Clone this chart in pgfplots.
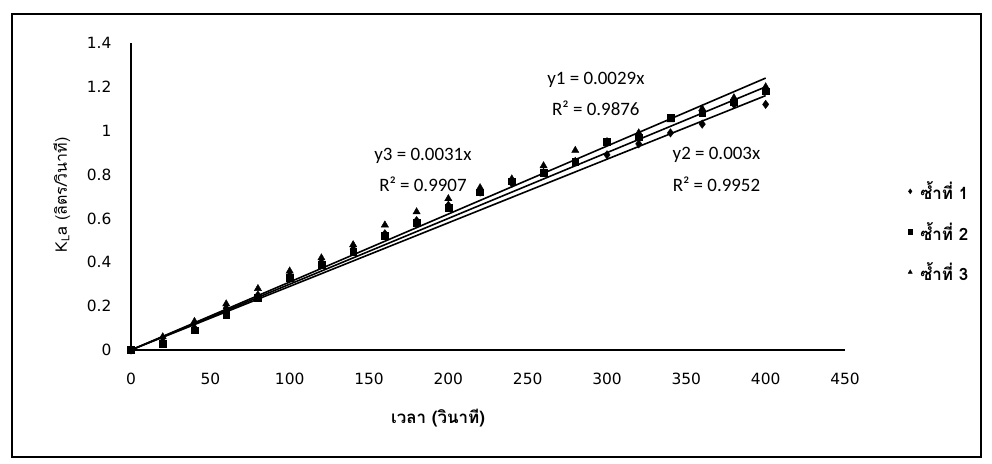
\documentclass[border=0pt]{standalone}
\usepackage{pgfplots}
\pgfplotsset{compat=1.18}
\usepackage{fontspec}
\setmainfont{DejaVu Sans}
\newfontfamily\thaifont[Script=Thai]{Loma}
\newfontfamily\eqfont{Carlito}

% measured K_La values of the three repeats
\pgfplotstableread{
t     r1    r2    r3
0     0.00  0.00  0.00
20    0.04  0.03  0.06
40    0.10  0.09  0.13
60    0.19  0.16  0.21
80    0.25  0.24  0.28
100   0.34  0.33  0.36
120   0.40  0.39  0.42
140   0.46  0.45  0.48
160   0.53  0.52  0.57
180   0.59  0.58  0.63
200   0.66  0.65  0.69
220   0.72  0.72  0.74
240   0.76  0.77  0.78
260   0.81  0.81  0.84
280   0.86  0.86  0.91
300   0.89  0.95  0.95
320   0.94  0.97  0.99
340   0.99  1.06  1.05
360   1.03  1.08  1.10
380   1.12  1.13  1.15
400   1.12  1.18  1.20
}\kla

\begin{document}
\begin{tikzpicture}[x=1bp,y=1bp]
\path[use as bounding box] (0,0) rectangle (992,464);
\draw[line width=1.6bp] (12,7) rectangle (981,450);
\begin{axis}[
  at={(131bp,114bp)}, anchor=south west,
  scale only axis, width=714bp, height=307bp,
  xmin=0, xmax=450, ymin=0, ymax=1.4,
  axis lines=left,
  axis line style={-, line width=1.3bp},
  tick style={draw=none}, major tick length=0pt,
  xtick={0,50,100,150,200,250,300,350,400,450},
  xticklabels={0,50,100,150,200,250,300,350,400,450},
  ytick={0,0.2,0.4,0.6,0.8,1,1.2,1.4},
  yticklabels={0,0.2,0.4,0.6,0.8,1,1.2,1.4},
  tick label style={font=\fontsize{15.5}{17}\selectfont},
  yticklabel style={xshift=-16bp},
  xticklabel style={yshift=-20bp},
  every axis y label/.style={at={(axis description cs:-0.097,0.505)}, rotate=90, anchor=center},
  every axis x label/.style={at={(axis description cs:0.43,-0.221)}, anchor=center},
  ylabel={\thaifont\fontsize{16}{18}\selectfont K\textsubscript{L}a (ลิตร/วินาที)},
  xlabel={\thaifont\bfseries\fontsize{17}{19}\selectfont เวลา (วินาที)},
  clip=false,
  legend style={at={(1.081,0.562)}, anchor=north west, draw=none, fill=none,
    row sep=17bp, font=\thaifont\bfseries\fontsize{17}{19}\selectfont,
    legend cell align=left},
  legend image code/.code={%
    \path (0bp,0bp) (12bp,0bp);
    \draw[mark repeat=2,mark phase=2,#1,mark size=2.4bp]
      plot coordinates {(0bp,0bp)(4bp,0bp)(8bp,0bp)};},
]
\addplot[only marks, mark=diamond*, mark size=4.2bp, black] table[x=t,y=r1] {\kla};
\addlegendentry{ซ้ำที่ 1}
\addplot[only marks, mark=square*, mark size=3.4bp, black] table[x=t,y=r2] {\kla};
\addlegendentry{ซ้ำที่ 2}
\addplot[only marks, mark=triangle*, mark size=4.2bp, black] table[x=t,y=r3] {\kla};
\addlegendentry{ซ้ำที่ 3}

% linear fits through the origin
\addplot[black, line width=1.6bp, forget plot] coordinates {(0,0) (400,1.16)};
\addplot[black, line width=1.6bp, forget plot] coordinates {(0,0) (400,1.20)};
\addplot[black, line width=1.6bp, forget plot] coordinates {(0,0) (400,1.24)};

\node[font=\eqfont\fontsize{19}{21}\selectfont] at (axis cs:293,1.231) {y1 = 0.0029x};
\node[font=\eqfont\fontsize{19}{21}\selectfont] at (axis cs:293,1.104) {R² = 0.9876};
\node[font=\eqfont\fontsize{19}{21}\selectfont] at (axis cs:184,0.883) {y3 = 0.0031x};
\node[font=\eqfont\fontsize{19}{21}\selectfont] at (axis cs:184,0.757) {R² = 0.9907};
\node[font=\eqfont\fontsize{19}{21}\selectfont] at (axis cs:369,0.889) {y2 = 0.003x};
\node[font=\eqfont\fontsize{19}{21}\selectfont] at (axis cs:369,0.757) {R² = 0.9952};
\end{axis}
\end{tikzpicture}
\end{document}
